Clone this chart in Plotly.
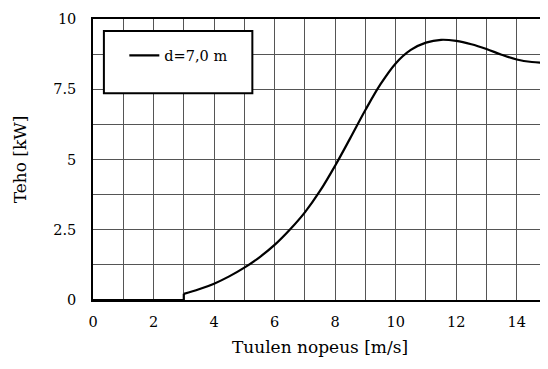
import plotly.graph_objects as go

# Data
wind_off = [0, 3, 3]
power_off = [0, 0, 0.22]

wind = [3.0, 3.5, 4.0, 4.5, 5.0, 5.5, 6.0, 6.5, 7.0, 7.5, 8.0, 8.5, 9.0, 9.5,
        10.0, 10.5, 11.0, 11.5, 12.0, 12.5, 13.0, 13.5, 14.0, 14.5, 15.0]
power = [0.22, 0.38, 0.58, 0.84, 1.15, 1.52, 1.96, 2.50, 3.12, 3.88, 4.78, 5.76,
         6.76, 7.68, 8.42, 8.90, 9.16, 9.26, 9.22, 9.10, 8.93, 8.73, 8.56, 8.47, 8.44]

x_ticks = [0, 2, 4, 6, 8, 10, 12, 14]
y_ticks = [0, 2.5, 5, 7.5, 10]
y_tick_text = ["0", "2.5", "5", "7.5", "10"]

series_name = "d=7,0 m"

FONT = "DejaVu Serif"
FS = 14.5

fig = go.Figure()
fig.add_trace(go.Scatter(x=wind_off, y=power_off, mode="lines",
                         line=dict(color="black", width=2.2),
                         name=series_name, showlegend=True))
fig.add_trace(go.Scatter(x=wind, y=power, mode="lines",
                         line=dict(color="black", width=2.2, shape="spline", smoothing=1.0),
                         name=series_name, showlegend=False))

# legend frame
fig.add_shape(type="rect", xref="paper", yref="paper",
              x0=0.024, x1=0.351, y0=0.736, y1=0.957,
              fillcolor="white", line=dict(color="black", width=2), layer="above")

# page body has an 8px margin, so the figure is sized to fill the rest of the window
fig.update_layout(
    width=540, height=361,
    margin=dict(l=85, r=1, t=11, b=69),
    paper_bgcolor="white", plot_bgcolor="white",
    font=dict(family=FONT, size=FS, color="black"),
    showlegend=True,
    legend=dict(x=0.069, y=0.927, xanchor="left", yanchor="top",
                bgcolor="rgba(0,0,0,0)", borderwidth=0,
                font=dict(family=FONT, size=FS)),
    xaxis=dict(range=[0, 15], tickvals=x_ticks, showgrid=True,
               gridcolor="#555", gridwidth=1,
               minor=dict(dtick=1, showgrid=True, gridcolor="#555", gridwidth=1),
               showline=True, linecolor="black", linewidth=1.5, mirror=True,
               ticks="", zeroline=False, automargin=False, ticklabelstandoff=8,
               title=dict(text="Tuulen nopeus [m/s]", standoff=12),
               tickfont=dict(family=FONT, size=FS)),
    yaxis=dict(range=[0, 10], tickvals=y_ticks, ticktext=y_tick_text, showgrid=True,
               gridcolor="#555", gridwidth=1,
               minor=dict(dtick=1.25, showgrid=True, gridcolor="#555", gridwidth=1),
               showline=True, linecolor="black", linewidth=1.5, mirror=True,
               ticks="", zeroline=False, automargin=False, ticklabelstandoff=12,
               title=dict(text="Teho [kW]", standoff=22),
               tickfont=dict(family=FONT, size=FS)),
)

fig.write_html("out.html")
